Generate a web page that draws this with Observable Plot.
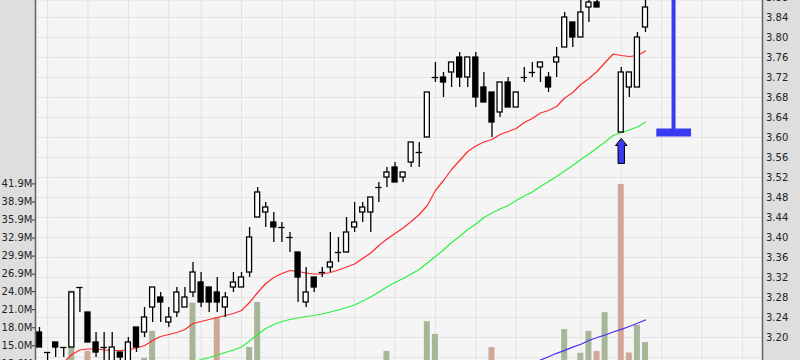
<!DOCTYPE html>
<html><head><meta charset="utf-8">
<script src="https://cdn.jsdelivr.net/npm/d3@7"></script>
<script src="https://cdn.jsdelivr.net/npm/@observablehq/plot@0.6"></script>
<style>
html,body{margin:0;padding:0;background:#dedede;}
#chart{width:800px;height:360px;overflow:hidden;}
</style></head><body><div id="chart"></div>
<script>
// ---- data ----
const open  = [3.21,3.17,3.19,3.18,3.18,3.30,3.25,3.19,3.18,3.15,3.17,3.15,3.22,3.21,3.26,3.28,3.23,3.25,3.26,3.29,
               3.31,3.30,3.29,3.26,3.30,3.30,3.33,3.44,3.45,3.43,3.42,3.40,3.37,3.27,3.32,3.33,3.34,3.37,3.37,3.42,
               3.45,3.45,3.50,3.52,3.54,3.52,3.55,3.57,3.60,3.72,3.72,3.73,3.76,3.72,3.76,3.70,3.69,3.65,3.71,3.66,
               3.72,3.73,3.74,3.72,3.75,3.78,3.83,3.80,3.86,3.87,3.88,3.92,3.61,3.70,3.70,3.82];
const high  = [3.22,3.17,3.19,3.18,3.29,3.30,3.25,3.21,3.21,3.21,3.17,3.20,3.22,3.26,3.30,3.29,3.26,3.30,3.30,3.35,
               3.33,3.30,3.32,3.29,3.33,3.33,3.42,3.50,3.47,3.45,3.43,3.41,3.37,3.34,3.32,3.34,3.41,3.40,3.44,3.47,
               3.47,3.48,3.51,3.54,3.55,3.53,3.59,3.59,3.69,3.75,3.73,3.75,3.77,3.76,3.77,3.73,3.69,3.71,3.72,3.69,
               3.74,3.75,3.75,3.73,3.78,3.85,3.83,3.88,3.89,3.90,3.94,3.95,3.74,3.73,3.81,3.88];
const low   = [3.18,3.13,3.16,3.16,3.18,3.25,3.19,3.16,3.14,3.14,3.15,3.14,3.17,3.20,3.23,3.23,3.22,3.24,3.26,3.28,
               3.26,3.25,3.25,3.24,3.29,3.30,3.32,3.44,3.42,3.39,3.39,3.37,3.27,3.26,3.29,3.32,3.33,3.35,3.37,3.41,
               3.43,3.41,3.47,3.50,3.51,3.51,3.54,3.54,3.60,3.71,3.68,3.70,3.70,3.70,3.66,3.67,3.60,3.64,3.66,3.66,
               3.71,3.72,3.71,3.69,3.72,3.78,3.78,3.80,3.83,3.86,3.88,3.88,3.61,3.68,3.70,3.81];
const close = [3.18,3.17,3.18,3.18,3.29,3.30,3.19,3.17,3.18,3.18,3.16,3.19,3.18,3.24,3.30,3.27,3.24,3.29,3.28,3.33,
               3.27,3.27,3.27,3.28,3.31,3.32,3.40,3.49,3.46,3.42,3.42,3.40,3.32,3.29,3.30,3.33,3.35,3.37,3.41,3.43,
               3.46,3.48,3.50,3.53,3.51,3.53,3.59,3.57,3.69,3.72,3.71,3.75,3.72,3.76,3.68,3.67,3.63,3.71,3.66,3.69,
               3.72,3.73,3.75,3.70,3.76,3.84,3.80,3.85,3.87,3.86,3.92,3.90,3.73,3.73,3.80,3.86];
// volume in millions (null = below the visible part of the chart)
const volume = [null,null,null,null,24.1,null,14.05,null,null,null,null,null,null,12.9,17.4,null,null,null,null,22.1,
                null,null,19.7,null,null,null,14.7,22.2,null,null,null,null,null,null,null,null,null,null,null,null,
                null,null,null,14.05,null,null,null,null,19.0,16.9,null,null,null,null,null,null,14.7,null,null,null,
                null,null,null,null,null,17.7,null,13.75,17.4,14.05,20.5,null,41.8,13.8,18.4,15.55];
// short moving average (red), long moving average (green), volume moving average (blue)
const maShort = [null,null,null,3.150,3.166,3.175,3.177,3.177,3.175,3.174,3.174,3.175,3.179,3.184,3.194,3.202,3.206,3.210,3.216,3.228,
                 3.232,3.236,3.240,3.244,3.248,3.254,3.270,3.290,3.308,3.320,3.328,3.334,3.332,3.329,3.327,3.327,3.330,3.335,3.341,3.347,
                 3.358,3.369,3.384,3.397,3.408,3.419,3.432,3.446,3.464,3.494,3.514,3.536,3.554,3.572,3.583,3.591,3.596,3.606,3.612,3.618,
                 3.630,3.638,3.649,3.654,3.662,3.679,3.690,3.706,3.718,3.732,3.750,3.767,3.764,3.762,3.764,3.773];
const maLong = [null,null,null,null,null,null,null,null,null,null,null,null,null,null,null,null,null,null,null,3.150,
                3.156,3.160,3.165,3.170,3.175,3.181,3.193,3.206,3.218,3.226,3.232,3.236,3.239,3.242,3.244,3.247,3.251,3.255,3.260,3.265,
                3.273,3.281,3.291,3.301,3.310,3.318,3.327,3.336,3.349,3.362,3.375,3.390,3.402,3.416,3.427,3.440,3.449,3.457,3.464,3.474,
                3.483,3.491,3.502,3.512,3.522,3.533,3.544,3.556,3.567,3.579,3.591,3.604,3.610,3.615,3.621,3.631];
const volMa = [];
const volMaStart = 61;
const volMaValues = [12.14,12.62,13.17,13.75,14.25,14.77,15.25,15.88,16.38,16.79,17.29,17.74,18.21,18.74,19.29];
// tick labels
const priceTicks = [3.20,3.24,3.28,3.32,3.36,3.40,3.44,3.48,3.52,3.56,3.60,3.64,3.68,3.72,3.76,3.80,3.84,3.88];
const priceGrid  = [3.16,3.20,3.24,3.28,3.32,3.36,3.40,3.44,3.48,3.52,3.56,3.60,3.64,3.68,3.72,3.76,3.80,3.84];
const volTickValues = [12.0,15.0,18.0,21.0,24.0,26.9,29.9,32.9,35.9,38.9,41.9];
const volTickLabels = ["12.0M","15.0M","18.0M","21.0M","24.0M","26.9M","29.9M","32.9M","35.9M","38.9M","41.9M"];
const weekStarts = [1,6,11,16,20,25,30,34,39,44,49,54,59,67,72,77,82,87];
// annotations
const signal = {i: 72, price: low[72]};
const bracket = {i: 78.47, from: 76.4, to: 80.7, low: 3.61, high: 3.95};

// ---- build ----
const candles = open.map((o, i) => ({i, open: o, high: high[i], low: low[i], close: close[i],
  prev: i > 0 ? close[i - 1] : null, volume: volume[i]}));
const volBars = candles.filter(d => d.volume != null);
const lineShort = candles.map(d => ({i: d.i, v: maShort[d.i]})).filter(d => d.v != null);
const lineLong = candles.map(d => ({i: d.i, v: maLong[d.i]})).filter(d => d.v != null);
const lineVol = volMaValues.map((v, k) => ({i: volMaStart + k, v}));

// secondary (volume) axis mapped into price space
const volToPrice = d3.scaleLinear().domain([15.0, 41.9]).range([3.1834, 3.5072]);
const XD = [-0.495, 89.48];
const PXU = 727 / (XD[1] - XD[0]);

const arrowSymbol = {draw(ctx) {
  ctx.moveTo(0, 6); ctx.lineTo(5.8, 13); ctx.lineTo(3.2, 13); ctx.lineTo(3.2, 31);
  ctx.lineTo(-3.2, 31); ctx.lineTo(-3.2, 13); ctx.lineTo(-5.8, 13); ctx.closePath();
}};

const GREEN_VOL = "#a7b599", RED_VOL = "#d1a694";
const HW = 0.31, VW = 0.37;

const chart = Plot.plot({
  width: 800, height: 360,
  marginLeft: 35, marginRight: 38, marginTop: 0, marginBottom: 0,
  style: {background: "#dedede", fontFamily: "DejaVu Sans", fontSize: "10px", overflow: "hidden"},
  x: {type: "linear", domain: XD, axis: null},
  y: {type: "linear", domain: [3.154, 3.874], axis: null},
  color: {type: "identity"},
  marks: [
    Plot.frame({fill: "#f5f5f5", stroke: "none"}),
    Plot.ruleY(priceGrid, {stroke: "#e3e3e3", strokeWidth: 1}),
    Plot.ruleX(weekStarts, {stroke: "#e3e3e3", strokeWidth: 1}),
    Plot.rect(volBars, {x1: d => d.i - VW, x2: d => d.i + VW,
      y1: () => volToPrice(0), y2: d => volToPrice(d.volume),
      fill: d => d.close > d.prev ? GREEN_VOL : RED_VOL}),
    Plot.line(lineVol, {x: "i", y: d => volToPrice(d.v), stroke: "#4a2cf2", strokeWidth: 1.2}),
    Plot.line(lineShort, {x: "i", y: "v", stroke: "#ff2b2b", strokeWidth: 1.2}),
    Plot.line(lineLong, {x: "i", y: "v", stroke: "#2ef03e", strokeWidth: 1.2}),
    Plot.ruleX(candles, {x: "i", y1: "low", y2: "high", stroke: "#000", strokeWidth: 1.3}),
    Plot.rect(candles.filter(d => d.open !== d.close), {x1: d => d.i - HW, x2: d => d.i + HW,
      y1: d => Math.min(d.open, d.close), y2: d => Math.max(d.open, d.close),
      fill: d => d.close > d.open ? "#ffffff" : "#000000", stroke: "#000", strokeWidth: 1.3}),
    Plot.ruleY(candles.filter(d => d.open === d.close), {x1: d => d.i - HW - 0.08, x2: d => d.i + HW + 0.08,
      y: "open", stroke: "#000", strokeWidth: 1.3}),
    Plot.ruleX([bracket], {x: "i", y1: "low", y2: "high", stroke: "#3a3af0", strokeWidth: 4}),
    Plot.ruleY([bracket], {y: "low", x1: "from", x2: "to", stroke: "#3a3af0", strokeWidth: 8}),
    Plot.dot([signal], {x: "i", y: "price", symbol: arrowSymbol, fill: "#3a3af0", stroke: "#000", strokeWidth: 1}),
    Plot.ruleX(XD, {stroke: "#5c6464", strokeWidth: 1.5}),
    Plot.text(priceTicks, {y: d => d, text: d => d.toFixed(2), frameAnchor: "right", dx: 3.5,
      textAnchor: "start", fill: "#222", fontSize: 10}),
    Plot.text(volTickValues, {y: d => volToPrice(d), text: (d, k) => volTickLabels[k], frameAnchor: "left", dx: -3,
      textAnchor: "end", fill: "#222", fontSize: 10}),
    Plot.ruleY(volTickValues, {y: d => volToPrice(d), x1: XD[0] - 3 / PXU, x2: XD[0], stroke: "#333", strokeWidth: 1})
  ]
});
document.getElementById("chart").appendChild(chart);
</script></body></html>
